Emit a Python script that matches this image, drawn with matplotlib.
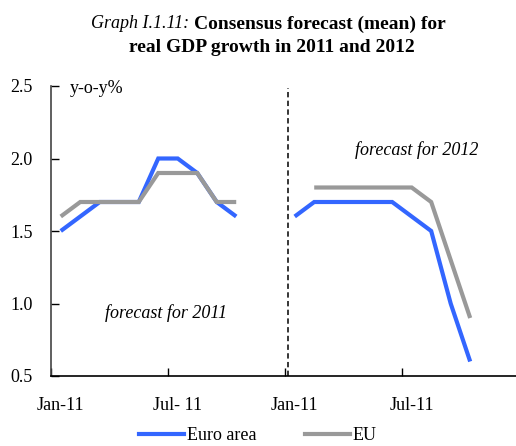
"""
Consensus forecast (mean) for real GDP growth in 2011 and 2012.
"""

import numpy as np
import matplotlib
matplotlib.use("Agg")
import matplotlib.pyplot as plt
from matplotlib.lines import Line2D

# ─────────────────────────────────────────────────────────────────────────────
# Data (monthly survey, Jan-11 .. Dec-11, two forecast targets)
# ─────────────────────────────────────────────────────────────────────────────
nan = np.nan
months = ["Jan", "Feb", "Mar", "Apr", "May", "Jun",
          "Jul", "Aug", "Sep", "Oct", "Nov", "Dec"]

ea_2011 = [1.5, 1.6, 1.7, 1.7, 1.7, 2.0, 2.0, 1.9, 1.7, 1.6, nan, nan]
eu_2011 = [1.6, 1.7, 1.7, 1.7, 1.7, 1.9, 1.9, 1.9, 1.7, 1.7, nan, nan]
ea_2012 = [1.6, 1.7, 1.7, 1.7, 1.7, 1.7, 1.6, 1.5, 1.0, 0.6, nan, nan]
eu_2012 = [nan, 1.8, 1.8, 1.8, 1.8, 1.8, 1.8, 1.7, 1.3, 0.9, nan, nan]

tick_labels = ["Jan-11", "Jul- 11", "Jan-11", "Jul-11"]
y_ticks = [0.5, 1.0, 1.5, 2.0, 2.5]

BLUE = "#3366FF"
GREY = "#999999"
FONT = "Liberation Serif"
FS = 13
FS_TITLE = 14

plt.rcParams["font.family"] = FONT

# ─────────────────────────────────────────────────────────────────────────────
# Plot
# ─────────────────────────────────────────────────────────────────────────────
fig = plt.figure(figsize=(5.16, 4.46), dpi=100)
ax = fig.add_axes([51 / 516, 70 / 446, 465 / 516, 290 / 446])

n = len(months)
x1 = np.arange(n)
x2 = np.arange(n) + n

for x, ea, eu in [(x1, ea_2011, eu_2011), (x2, ea_2012, eu_2012)]:
    ax.plot(x, ea, color=BLUE, lw=3, solid_capstyle="butt", solid_joinstyle="miter")
    ax.plot(x, eu, color=GREY, lw=3, solid_capstyle="butt", solid_joinstyle="miter")

# separator between the two forecast targets
ax.axvline(n - 0.32, ymin=0.0, ymax=0.993, color="black", lw=1.1,
           ls=(0, (3.5, 2.2)))

ax.set_xlim(-0.5, 23.35)
ax.set_ylim(0.5, 2.5)

# tick marks on category boundaries, labels on category centres
ax.set_xticks([-0.5, 5.5, 11.5, 17.5])
ax.set_xticklabels([])
ax.set_xticks([0, 6, 12, 18], minor=True)
ax.set_xticklabels(tick_labels, minor=True)
ax.tick_params(axis="x", which="major", direction="in", length=6, width=1)
ax.tick_params(axis="x", which="minor", length=0, pad=15, labelsize=FS)

ax.set_yticks(y_ticks)
ax.set_yticklabels([f"{v:.1f}" for v in y_ticks])
ax.tick_params(axis="y", direction="in", length=6, width=1, pad=13, labelsize=FS)

for side in ["top", "right"]:
    ax.spines[side].set_visible(False)
for side in ["left", "bottom"]:
    ax.spines[side].set_linewidth(1.2)
ax.spines["left"].set_color("#444444")

ax.text(0.47, 2.48, "y-o-y%", fontsize=FS, va="center", ha="left")
ax.text(5.4, 0.934, "forecast for 2011", fontsize=FS, style="italic",
        ha="center", va="center")
ax.text(18.24, 2.06, "forecast for 2012", fontsize=FS, style="italic",
        ha="center", va="center")

# legend
handles = [Line2D([], [], color=BLUE, lw=3), Line2D([], [], color=GREY, lw=3)]
fig.legend(handles, ["Euro area", "EU"], loc="center", ncol=2,
           bbox_to_anchor=(0.5, 10 / 446), frameon=False, fontsize=FS,
           handlelength=2.5, handletextpad=0.15, columnspacing=2.7)

# title: italic label + bold text on line 1, bold line 2
t1 = fig.text(0, 1 - 24 / 446, "Graph I.1.11:", fontsize=FS, style="italic",
              va="center", ha="left")
t2 = fig.text(0, 1 - 24 / 446, "Consensus forecast (mean) for", fontsize=FS_TITLE,
              weight="bold", va="center", ha="left")
fig.text(272 / 516, 1 - 47 / 446, "real GDP growth in 2011 and 2012",
         fontsize=FS_TITLE, weight="bold", va="center", ha="center")

r = fig.canvas.get_renderer()
w1 = t1.get_window_extent(r).width
w2 = t2.get_window_extent(r).width
gap = 5
x0 = 268 - (w1 + gap + w2) / 2
t1.set_x(x0 / 516)
t2.set_x((x0 + w1 + gap) / 516)

fig.savefig("out.png", dpi=100)
plt.close(fig)
